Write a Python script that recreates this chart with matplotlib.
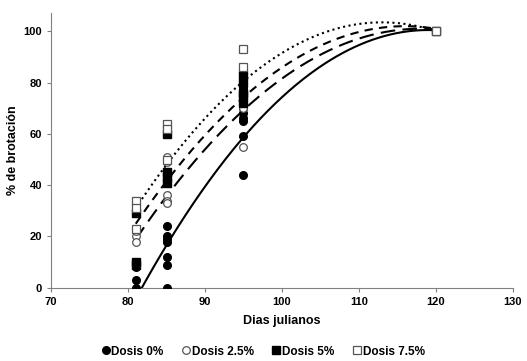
import matplotlib
matplotlib.use('Agg')
import matplotlib.pyplot as plt
import numpy as np

plt.rcParams['font.family'] = ['Liberation Sans', 'DejaVu Sans']
plt.rcParams['font.weight'] = 'bold'

# observed sprouting (%) per julian day, one list per dose
days_0 = [81, 81, 81, 81, 85, 85, 85, 85, 85, 85, 85, 95, 95, 95, 95, 95, 95, 95, 95, 120]
vals_0 = [8, 3, 0, 10, 24, 20, 19, 18, 12, 9, 0, 78, 73, 68, 66, 65, 59, 44, 70, 100]
days_25 = [81, 81, 81, 85, 85, 85, 85, 85, 95, 95, 95, 120]
vals_25 = [20, 18, 22, 51, 49, 36, 34, 33, 70, 55, 80, 100]
days_5 = [81, 81, 81, 85, 85, 85, 85, 95, 95, 95, 95, 95, 120]
vals_5 = [29, 10, 9, 60, 45, 43, 41, 83, 80, 75, 72, 76, 100]
days_75 = [81, 81, 81, 85, 85, 85, 95, 95, 120]
vals_75 = [34, 31, 23, 64, 62, 50, 93, 86, 100]

# quadratic trend lines: (peak day, peak value, curvature)
trend_0 = (119.0, 100.5, 0.0726)
trend_25 = (118.0, 101.0, 0.0600)
trend_5 = (116.0, 102.0, 0.0629)
trend_75 = (113.0, 103.5, 0.0708)

fig = plt.figure(figsize=(5.27, 3.61), dpi=100)
ax = fig.add_axes([0.097, 0.203, 0.876, 0.76])

xs = np.linspace(81, 120, 300)
styles = [(trend_0, '-'), (trend_25, (0, (7, 3.5))),
          (trend_5, (0, (4, 3))), (trend_75, ':')]
for (h, k, a), ls in styles:
    ys = k - a * (xs - h) ** 2
    ax.plot(xs, ys, color='black', linestyle=ls, linewidth=1.5, zorder=2)

ms = 5.5
ax.plot(days_0, vals_0, 'o', color='black', ms=ms, label='Dosis 0%', zorder=3)
ax.plot(days_25, vals_25, 'o', mfc='white', mec='#555555', mew=0.9, ms=ms, label='Dosis 2.5%', zorder=3)
ax.plot(days_5, vals_5, 's', color='black', ms=ms, label='Dosis 5%', zorder=3)
ax.plot(days_75, vals_75, 's', mfc='white', mec='#555555', mew=0.9, ms=ms, label='Dosis 7.5%', zorder=3)

ax.set_xlim(70, 130)
ax.set_ylim(0, 107)
ax.set_xticks(range(70, 131, 10))
ax.set_yticks(range(0, 101, 20))
for s in ['top', 'right']:
    ax.spines[s].set_visible(False)
for s in ['left', 'bottom']:
    ax.spines[s].set_color('#808080')
ax.tick_params(colors='#808080', labelcolor='black', labelsize=8, length=3)
for lab in ax.get_xticklabels() + ax.get_yticklabels():
    lab.set_fontweight('bold')

ax.set_xlabel('Dias julianos', fontsize=9, fontweight='bold', labelpad=6)
ax.set_ylabel('% de brotación', fontsize=9, fontweight='bold', labelpad=3)

leg = fig.legend(loc='lower center', bbox_to_anchor=(0.5, -0.02), ncol=4, frameon=False,
                 handlelength=0.6, handletextpad=0.2, columnspacing=1.6,
                 prop={'size': 8.5, 'weight': 'bold'})

fig.savefig('out.png', dpi=100)
